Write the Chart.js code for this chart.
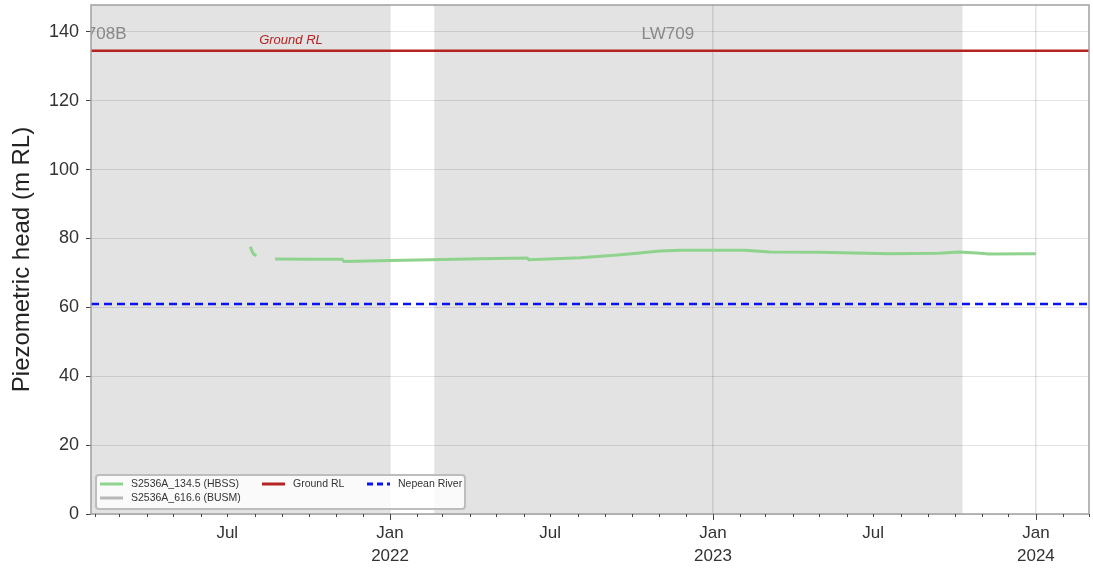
<!DOCTYPE html>
<html>
<head>
<meta charset="utf-8">
<script src="https://cdn.jsdelivr.net/npm/chart.js@4.4.1/dist/chart.umd.min.js"></script>
<style>
  html, body { margin: 0; padding: 0; background: #fff; }
  canvas { display: block; }
</style>
</head>
<body>
<canvas id="chart" width="1093" height="569"></canvas>
<script>
// Piezometer S2536A_134.5 (HBSS) readings, m RL (a null marks a gap in the record)
const hbssDates = ['2021-07-27', '2021-07-29', '2021-07-31', '2021-08-03', '2021-08-14',
  '2021-08-24', '2021-10-03', '2021-11-08', '2021-11-10', '2022-01-01', '2022-02-15',
  '2022-04-13', '2022-06-05', '2022-06-07', '2022-08-04', '2022-09-15', '2022-10-01',
  '2022-11-02', '2022-11-25', '2023-02-06', '2023-03-06', '2023-05-01', '2023-07-19',
  '2023-09-13', '2023-10-06', '2023-10-26', '2023-11-09', '2024-01-01'];
const hbssHead = [77.6, 76.3, 75.4, 75.0, null,
  74.05, 73.95, 74.0, 73.3, 73.6, 73.8,
  74.1, 74.35, 73.8, 74.4, 75.2, 75.6,
  76.4, 76.6, 76.6, 76.1, 76.0, 75.6,
  75.7, 76.1, 75.8, 75.5, 75.6];

// Piezometer S2536A_616.6 (BUSM): no readings in this period
const busmDates = [];
const busmHead = [];

// Reference levels, m RL
const groundRL = 134.5;
const nepeanRiverRL = 61;

// Longwall extraction periods (shaded) and their labels
const panelNames = ['LW708B', 'LW709'];
const panelStarts = ['2020-12-01', '2022-02-20'];
const panelEnds = ['2021-12-31', '2023-10-10'];
const panelLabelDates = ['2021-02-01', '2022-11-11'];
const groundLabelDate = '2021-09-11';

// Axis extents and ticks
const xStart = '2021-01-28';
const xEnd = '2024-03-01';
const yMin = 0;
const yMax = 147.8;
const yTickValues = [0, 20, 40, 60, 80, 100, 120, 140];
const monthNames = ['Jan', 'Feb', 'Mar', 'Apr', 'May', 'Jun', 'Jul', 'Aug', 'Sep', 'Oct', 'Nov', 'Dec'];

const FONT = "'Liberation Sans', Arial, Helvetica, sans-serif";
const ms = d => Date.parse(d + 'T00:00:00Z');
const toPoints = (dates, vals) => dates.map((d, i) => ({ x: ms(d), y: vals[i] }));

const xMin = ms(xStart), xMax = ms(xEnd);

function monthTicks() {
  const out = [];
  const s = new Date(xMin);
  let y = s.getUTCFullYear(), m = s.getUTCMonth() + 1;
  while (true) {
    const t = Date.UTC(y, m, 1);
    if (t > xMax) break;
    out.push({ value: t });
    m++;
  }
  return out;
}
const isJan = v => new Date(v).getUTCMonth() === 0;

const series = [
  { label: 'S2536A_134.5 (HBSS)', color: '#8fd38f', dash: [] },
  { label: 'S2536A_616.6 (BUSM)', color: '#b8b8b8', dash: [] },
  { label: 'Ground RL', color: '#b52222', dash: [] },
  { label: 'Nepean River', color: '#0a14f0', dash: [8, 5] }
];

const decorPlugin = {
  id: 'decor',
  beforeDraw(chart) {
    const { ctx, chartArea: a, scales: { x } } = chart;
    ctx.save();
    ctx.fillStyle = '#ffffff';
    ctx.fillRect(0, 0, chart.width, chart.height);
    ctx.beginPath();
    ctx.rect(a.left, a.top, a.right - a.left, a.bottom - a.top);
    ctx.clip();
    ctx.fillStyle = '#e3e3e3';
    panelStarts.forEach((s, i) => {
      const x0 = x.getPixelForValue(ms(s));
      const x1 = x.getPixelForValue(ms(panelEnds[i]));
      ctx.fillRect(x0, a.top, x1 - x0, a.bottom - a.top);
    });
    ctx.restore();
  },
  afterDraw(chart) {
    const { ctx, chartArea: a, scales: { x, y } } = chart;
    ctx.save();

    // panel labels, clipped to the plot
    ctx.save();
    ctx.beginPath();
    ctx.rect(a.left, a.top, a.right - a.left, a.bottom - a.top);
    ctx.clip();
    ctx.fillStyle = '#888888';
    ctx.font = '17px ' + FONT;
    ctx.textAlign = 'center';
    ctx.textBaseline = 'middle';
    panelNames.forEach((n, i) => {
      ctx.fillText(n, x.getPixelForValue(ms(panelLabelDates[i])), a.top + 29);
    });
    ctx.fillStyle = '#b52222';
    ctx.font = 'italic 13px ' + FONT;
    ctx.fillText('Ground RL', x.getPixelForValue(ms(groundLabelDate)), y.getPixelForValue(groundRL) - 10);
    ctx.restore();

    // frame
    ctx.strokeStyle = '#a0a0a0';
    ctx.lineWidth = 1.5;
    ctx.strokeRect(a.left, a.top, a.right - a.left, a.bottom - a.top);

    // x tick marks: long at January, short at other months
    ctx.strokeStyle = '#444444';
    ctx.lineWidth = 1;
    x.ticks.forEach(t => {
      const px = Math.round(x.getPixelForValue(t.value)) + 0.5;
      const len = isJan(t.value) ? 6 : 3;
      ctx.beginPath();
      ctx.moveTo(px, a.bottom);
      ctx.lineTo(px, a.bottom + len);
      ctx.stroke();
    });

    // legend
    const bx = a.left + 5, by = a.bottom - 39, bw = 369, bh = 34;
    ctx.fillStyle = 'rgba(255,255,255,0.8)';
    ctx.strokeStyle = '#bdbdbd';
    ctx.lineWidth = 2;
    ctx.beginPath();
    ctx.roundRect(bx, by, bw, bh, 3);
    ctx.fill();
    ctx.stroke();
    const entries = [
      { s: series[0], x: bx + 4, y: by + 9 },
      { s: series[1], x: bx + 4, y: by + 23 },
      { s: series[2], x: bx + 166, y: by + 9 },
      { s: series[3], x: bx + 271, y: by + 9 }
    ];
    ctx.font = '10.5px ' + FONT;
    ctx.textAlign = 'left';
    ctx.textBaseline = 'middle';
    entries.forEach(e => {
      ctx.strokeStyle = e.s.color;
      ctx.lineWidth = 3;
      ctx.setLineDash(e.s.dash.length ? [6, 4] : []);
      ctx.beginPath();
      ctx.moveTo(e.x, e.y);
      ctx.lineTo(e.x + 23, e.y);
      ctx.stroke();
      ctx.setLineDash([]);
      ctx.fillStyle = '#333333';
      ctx.fillText(e.s.label, e.x + 31, e.y);
    });
    ctx.restore();
  }
};

new Chart(document.getElementById('chart'), {
  type: 'line',
  data: {
    datasets: [
      { label: series[0].label, data: toPoints(hbssDates, hbssHead), borderColor: series[0].color,
        borderWidth: 3, pointRadius: 0, spanGaps: false, tension: 0 },
      { label: series[1].label, data: toPoints(busmDates, busmHead), borderColor: series[1].color,
        borderWidth: 3, pointRadius: 0 },
      { label: series[2].label, data: [{ x: xMin, y: groundRL }, { x: xMax, y: groundRL }],
        borderColor: series[2].color, borderWidth: 2.5, pointRadius: 0 },
      { label: series[3].label, data: [{ x: xMin, y: nepeanRiverRL }, { x: xMax, y: nepeanRiverRL }],
        borderColor: series[3].color, borderWidth: 2.5, borderDash: series[3].dash, pointRadius: 0 }
    ]
  },
  options: {
    responsive: false,
    animation: false,
    events: [],
    layout: { padding: { top: 5, right: 4, left: 0, bottom: 0 } },
    plugins: { legend: { display: false }, tooltip: { enabled: false } },
    scales: {
      x: {
        type: 'linear',
        min: xMin,
        max: xMax,
        afterBuildTicks: s => { s.ticks = monthTicks(); },
        afterFit: s => { s.height = 55; s.paddingLeft = 0; s.paddingRight = 0; },
        border: { display: false },
        grid: {
          drawTicks: false,
          color: c => (c.tick && isJan(c.tick.value)) ? 'rgba(0,0,0,0.11)' : 'rgba(0,0,0,0)',
          lineWidth: 1.5
        },
        ticks: {
          autoSkip: false,
          maxRotation: 0,
          minRotation: 0,
          padding: 8,
          color: '#333333',
          font: { family: FONT, size: 17, lineHeight: 1.35 },
          callback: v => {
            const d = new Date(v);
            const m = d.getUTCMonth();
            if (m === 0) return [monthNames[0], String(d.getUTCFullYear())];
            if (m === 6) return monthNames[6];
            return '';
          }
        }
      },
      y: {
        min: yMin,
        max: yMax,
        afterBuildTicks: s => { s.ticks = yTickValues.map(v => ({ value: v })); },
        afterFit: s => { s.width = 91; s.paddingTop = 0; s.paddingBottom = 0; },
        border: { display: false },
        grid: { color: 'rgba(0,0,0,0.11)', tickColor: '#444444', tickLength: 5, lineWidth: 1 },
        ticks: { padding: 7, color: '#333333', font: { family: FONT, size: 18 } },
        title: {
          display: true,
          text: 'Piezometric head (m RL)',
          color: '#222222',
          font: { family: FONT, size: 24 },
          padding: { top: 8, bottom: 0 }
        }
      }
    }
  },
  plugins: [decorPlugin]
});
</script>
</body>
</html>
